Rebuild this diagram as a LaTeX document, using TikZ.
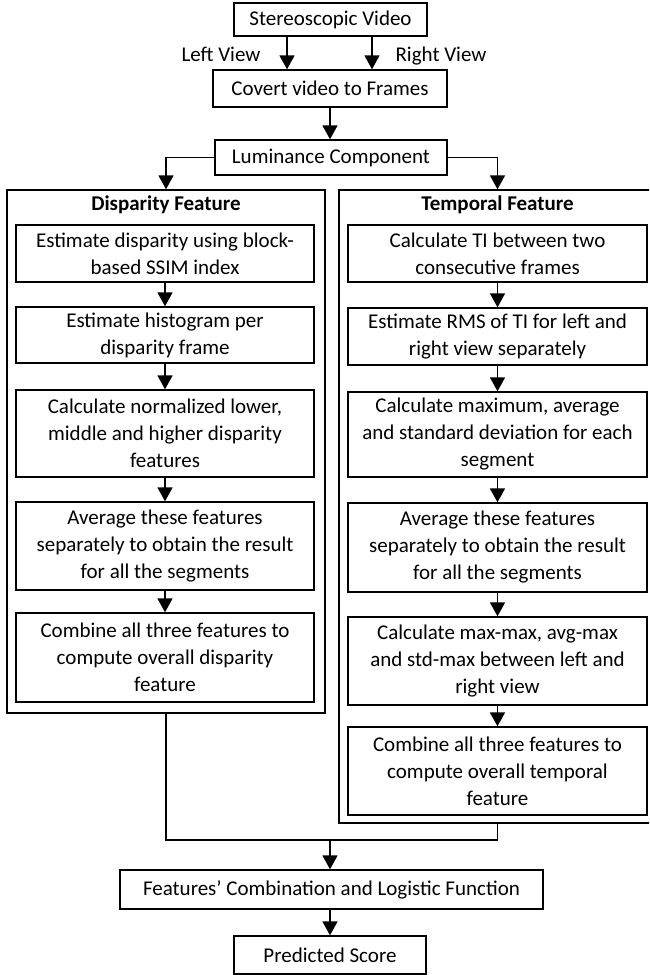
\documentclass[tikz,border=0pt]{standalone}
\usepackage{fontspec}
\setmainfont{Carlito}
\usetikzlibrary{arrows.meta,calc}
\begin{document}
\begin{tikzpicture}[x=1pt,y=-1pt,
  txt/.style={font=\fontsize{21}{27}\selectfont},
  box/.style={draw,line width=1.4pt,align=center,inner sep=0pt,txt},
  outer/.style={draw,line width=1.4pt,inner sep=0pt},
  arr/.style={line width=1.8pt,-{Triangle[width=15pt,length=14pt]}},
  ln/.style={line width=1.4pt}]
\useasboundingbox (0,0) rectangle (649,975);
\clip (0,0) rectangle (649,975);
% top chain
\node[box,minimum width=193pt,minimum height=33pt] (sv) at (330.5,19.5) {Stereoscopic Video};
\node[box,minimum width=234pt,minimum height=37pt] (cf) at (330,88.5) {Covert video to Frames};
\node[box,minimum width=232pt,minimum height=35pt] (lum) at (331,157.5) {Luminance Component};
\node[txt,anchor=base] (lv) at (221,61) {Left View};
\node[txt,anchor=base] (rv) at (441,61) {Right View};
\coordinate (lx) at (287,0);
\coordinate (rx) at (372,0);
\draw[arr] (sv.south -| lx) -- (cf.north -| lx);
\draw[arr] (sv.south -| rx) -- (cf.north -| rx);
\draw[arr] (cf.south) -- (cf.south |- lum.north);
% outer boxes
\node[outer,minimum width=318pt,minimum height=523pt] (dis) at (166,451.5) {};
\node[outer,minimum width=321pt,minimum height=633pt] (tem) at (499.5,506.5) {};
\node[txt,font=\fontsize{21}{27}\selectfont\bfseries] (dt) at (166,205) {Disparity Feature};
\node[txt,font=\fontsize{21}{27}\selectfont\bfseries] (tt) at (497.5,205) {Temporal Feature};
% disparity column
\node[box,minimum width=298pt,minimum height=57pt] (d1) at (165,253.5) {Estimate disparity using block-\\based SSIM index};
\node[box,minimum width=298pt,minimum height=56pt] (d2) at (165,335) {Estimate histogram per\\disparity frame};
\node[box,minimum width=298pt,minimum height=87pt] (d3) at (165,433.5) {Calculate normalized lower,\\middle and higher disparity\\features};
\node[box,minimum width=298pt,minimum height=88pt] (d4) at (165,546) {Average these features\\separately to obtain the result\\for all the segments};
\node[box,minimum width=298pt,minimum height=89pt] (d5) at (165,657.5) {Combine all three features to\\compute overall disparity\\feature};
% temporal column
\node[box,minimum width=299pt,minimum height=57pt] (t1) at (497.5,253.5) {Calculate TI between two\\consecutive frames};
\node[box,minimum width=299pt,minimum height=57pt] (t2) at (497.5,336.5) {Estimate RMS of TI for left and\\right view separately};
\node[box,minimum width=299pt,minimum height=85pt] (t3) at (497.5,434.5) {Calculate maximum, average\\and standard deviation for each\\segment};
\node[box,minimum width=299pt,minimum height=89pt] (t4) at (497.5,547.5) {Average these features\\separately to obtain the result\\for all the segments};
\node[box,minimum width=299pt,minimum height=88pt] (t5) at (497.5,661) {Calculate max-max, avg-max\\and std-max between left and\\right view};
\node[box,minimum width=299pt,minimum height=88pt] (t6) at (497.5,771) {Combine all three features to\\compute overall temporal\\feature};
% bottom
\node[box,minimum width=423pt,minimum height=39pt] (feat) at (331.5,889.5) {Features’ Combination and Logistic Function};
\node[box,minimum width=192pt,minimum height=38pt] (pred) at (330,955) {Predicted Score};
% connectors
\draw[arr] (lum.west) -| (dis.north);
\draw[arr] (lum.east) -| (t1.north |- tem.north);
\foreach \a/\b in {d1/d2,d2/d3,d3/d4,d4/d5,t1/t2,t2/t3,t3/t4,t4/t5,t5/t6}
  \draw[arr] (\a.south) -- (\a.south |- \b.north);
\coordinate (m) at (330,840);
\draw[ln] (dis.south) |- (t6.south |- m) -- (t6.south |- tem.south);
\draw[arr] (m) -- (m |- feat.north);
\draw[arr] (m |- feat.south) -- (m |- pred.north);
\end{tikzpicture}
\end{document}
